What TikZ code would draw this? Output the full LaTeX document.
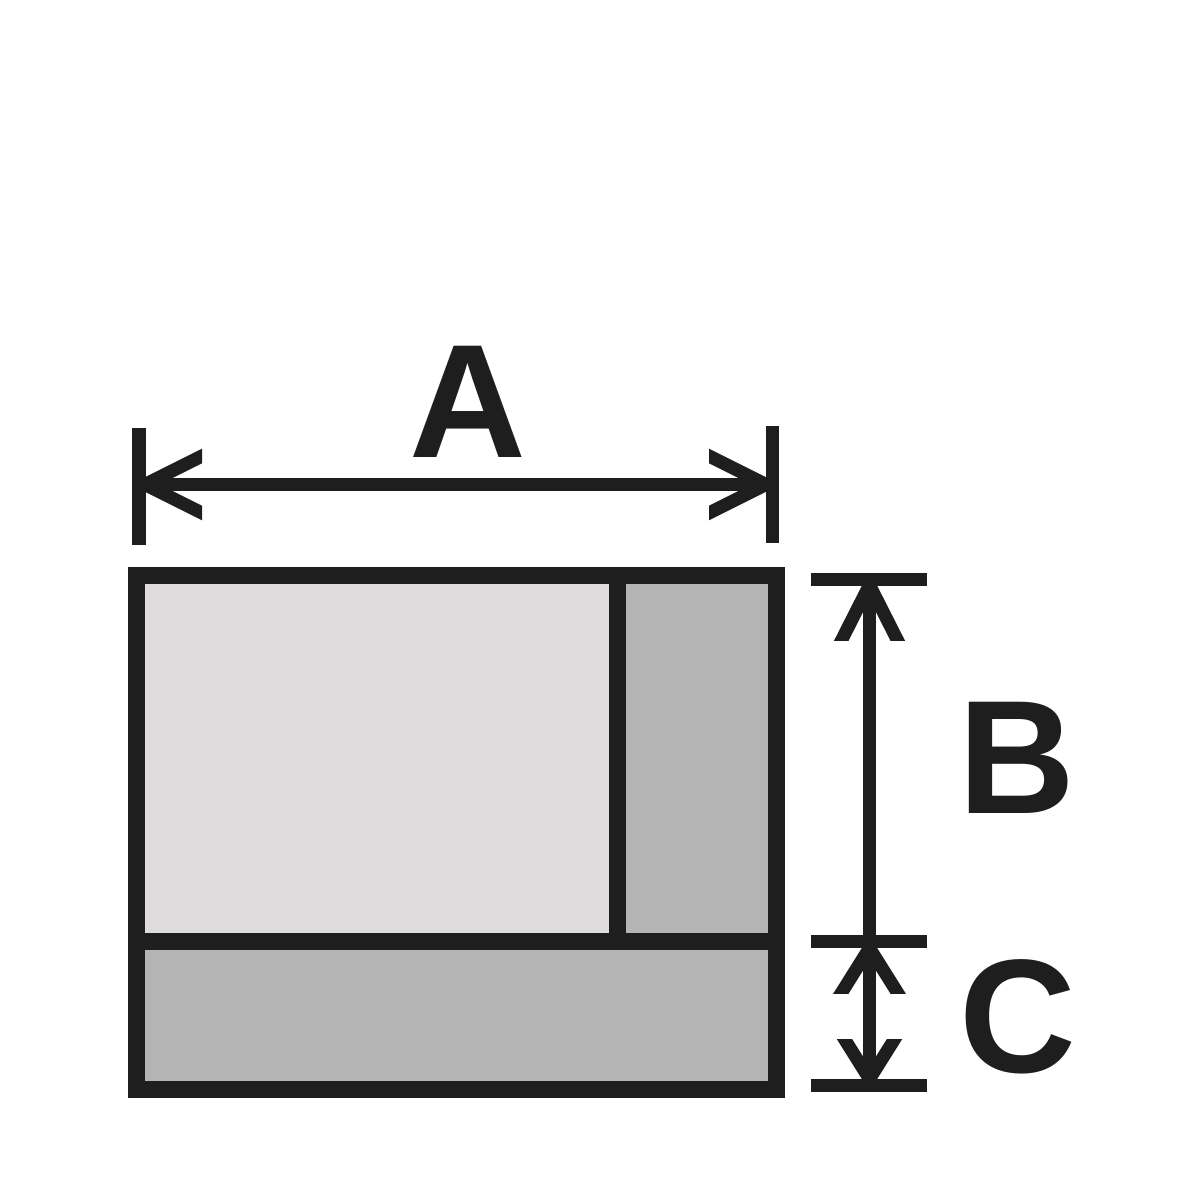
\documentclass[tikz,border=0pt]{standalone}
\usepackage{fontspec}
\usetikzlibrary{calc}
\setmainfont{Liberation Sans}
\definecolor{ink}{HTML}{1E1E1E}
\definecolor{lightfill}{HTML}{DEDCDD}
\definecolor{midfill}{HTML}{B4B4B4}
\begin{document}
\begin{tikzpicture}[x=0.01cm,y=-0.01cm,
  frame/.style={draw=ink,line width=0.17cm},
  dimline/.style={draw=ink,line width=0.13cm},
  head/.style={draw=ink,line width=0.13cm,line join=miter},
  lbl/.style={inner sep=0pt,text=ink,font=\fontsize{46}{46}\selectfont\bfseries}]
\useasboundingbox (0,0) rectangle (1200,1200);
% box
\fill[midfill] (136.5,575.5) rectangle (776.5,1089.5);
\fill[lightfill] (136.5,575.5) rectangle (617.5,941.5);
\draw[frame] (136.5,575.5) rectangle (776.5,1089.5);
\draw[frame] (136.5,941.5) -- (776.5,941.5);
\draw[frame] (617.5,575.5) -- (617.5,941.5);
% A dimension
\coordinate (aLt) at (139,428);
\coordinate (aLb) at (139,545);
\coordinate (aRt) at (772.5,426);
\coordinate (aRb) at (772.5,543);
\coordinate (aL) at (145,484.5);
\coordinate (aR) at (766,484.5);
\draw[dimline] (aLt) -- (aLb);
\draw[dimline] (aRt) -- (aRb);
\draw[dimline] (aL) -- (aR);
\begin{scope}
  \clip (139,400) rectangle (202,570);
  \draw[head] ($(aL)+(77,-38.5)$) -- (aL) -- ($(aL)+(77,38.5)$);
\end{scope}
\begin{scope}
  \clip (709,400) rectangle (772.5,570);
  \draw[head] ($(aR)+(-77,-38.5)$) -- (aR) -- ($(aR)+(-77,38.5)$);
\end{scope}
\node[lbl] (A) at (468,402) {A};
% B and C dimensions
\coordinate (bT1) at (811,579);
\coordinate (bT2) at (927,579);
\coordinate (bM1) at (811,941.5);
\coordinate (bM2) at (927,941.5);
\coordinate (bB1) at (811,1085.5);
\coordinate (bB2) at (927,1085.5);
\coordinate (bTop) at (869.5,579);
\coordinate (bBot) at (869.5,1085.5);
\draw[dimline] (bT1) -- (bT2);
\draw[dimline] (bM1) -- (bM2);
\draw[dimline] (bB1) -- (bB2);
\draw[dimline] (bTop) -- (bBot);
\coordinate (tipB) at (869.5,585);
\coordinate (tipC1) at (869.5,948);
\coordinate (tipC2) at (869.5,1079);
\begin{scope}
  \clip (800,579) rectangle (940,640);
  \draw[head] ($(tipB)+(-38,75)$) -- (tipB) -- ($(tipB)+(38,75)$);
\end{scope}
\begin{scope}
  \clip (800,941.5) rectangle (940,993);
  \draw[head] ($(tipC1)+(-47,75)$) -- (tipC1) -- ($(tipC1)+(47,75)$);
\end{scope}
\begin{scope}
  \clip (800,1039) rectangle (940,1085.5);
  \draw[head] ($(tipC2)+(-47,-75)$) -- (tipC2) -- ($(tipC2)+(47,-75)$);
\end{scope}
\node[lbl] (B) at (1017,758) {B};
\node[lbl] (C) at (1018,1017) {C};
\end{tikzpicture}
\end{document}
